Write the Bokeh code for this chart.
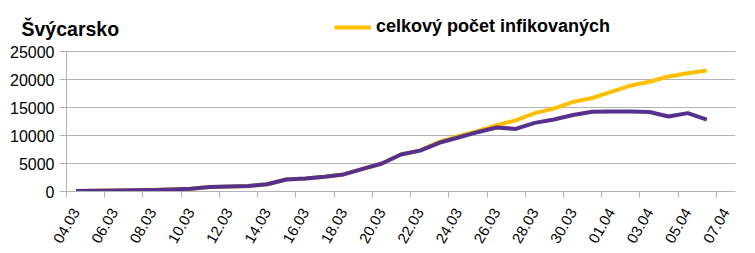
from bokeh.plotting import figure
from bokeh.models import FixedTicker, Legend, LegendItem, Range1d, BasicTickFormatter
from bokeh.embed import file_html
from bokeh.resources import INLINE

# ---- data ----
dates = ["04.03", "05.03", "06.03", "07.03", "08.03", "09.03", "10.03", "11.03", "12.03",
         "13.03", "14.03", "15.03", "16.03", "17.03", "18.03", "19.03", "20.03", "21.03",
         "22.03", "23.03", "24.03", "25.03", "26.03", "27.03", "28.03", "29.03", "30.03",
         "31.03", "01.04", "02.04", "03.04", "04.04", "05.04", "06.04", "07.04"]
total_infected = [90, 130, 200, 230, 290, 350, 480, 800, 900, 1000, 1300, 2150, 2330, 2650,
                  3050, 4040, 5000, 6600, 7350, 8850, 9870, 10770, 11840, 12700, 14000,
                  14800, 16000, 16700, 17800, 18900, 19600, 20550, 21100, 21600]
active_cases = [90, 130, 200, 230, 290, 350, 480, 800, 900, 1000, 1300, 2150, 2330, 2650,
                3050, 4040, 5000, 6600, 7300, 8700, 9640, 10590, 11430, 11180, 12250,
                12860, 13650, 14250, 14300, 14300, 14200, 13400, 14000, 12850]
y_ticks = [0, 5000, 10000, 15000, 20000, 25000]
title_text = "Švýcarsko"
legend_label = "celkový počet infikovaných"

YELLOW = "#ffbf00"
PURPLE = "#55308d"
GRID = "#b3b3b3"
FONT = "Liberation Sans"

W, H = 755, 253
BORDER_L, BORDER_R, BORDER_B = 66, 20, 62
FRAME_H = H - BORDER_B            # frame reaches the top of the canvas
PLOT_H = 140                      # pixel height of the 0..25000 value band
Y_TOP = y_ticks[-1]
y_end = Y_TOP * FRAME_H / PLOT_H  # room above the value band for title & legend

p = figure(width=W, height=H, output_backend="svg", toolbar_location=None,
           x_range=Range1d(-0.5, len(dates) - 0.5), y_range=Range1d(0, y_end),
           min_border_left=BORDER_L, min_border_right=BORDER_R,
           min_border_top=0, min_border_bottom=BORDER_B)

# title lives in the (empty) top panel and is pushed down next to the legend
p.title.text = title_text
p.title.text_font = FONT
p.title.text_font_size = "19.5px"
p.title.text_font_style = "bold"
p.title.text_color = "black"
p.title.align = "left"
p.title.offset = 21 - BORDER_L
p.title.standoff = -78

xs = list(range(len(total_infected)))
r_total = p.line(xs, total_infected, line_color=YELLOW, line_width=4, line_join="round")
p.line(xs, active_cases, line_color=PURPLE, line_width=4, line_join="round")

# x axis: labels at category centres, tick marks at category boundaries
label_idx = list(range(0, len(dates), 2))
p.xaxis.ticker = FixedTicker(ticks=label_idx, minor_ticks=[i - 0.5 for i in label_idx])
p.xaxis.major_label_overrides = {i: dates[i] for i in label_idx}
p.xaxis.major_label_orientation = 1.047
p.xaxis.major_tick_out = 0
p.xaxis.major_tick_in = 0
p.xaxis.minor_tick_out = 6
p.xaxis.minor_tick_in = 0
p.xaxis.minor_tick_line_color = GRID
p.xaxis.axis_line_color = GRID
p.xaxis.major_label_text_font = FONT
p.xaxis.major_label_text_font_size = "15px"
p.xaxis.major_label_text_color = "black"
p.xaxis.major_label_standoff = 12

p.yaxis.ticker = FixedTicker(ticks=y_ticks)
p.yaxis.bounds = (0, Y_TOP)
p.yaxis.formatter = BasicTickFormatter(use_scientific=False)
p.yaxis.major_tick_out = 7
p.yaxis.major_tick_in = 0
p.yaxis.minor_tick_line_color = None
p.yaxis.major_tick_line_color = GRID
p.yaxis.axis_line_color = GRID
p.yaxis.major_label_text_font = FONT
p.yaxis.major_label_text_font_size = "16px"
p.yaxis.major_label_text_color = "black"
p.yaxis.major_label_standoff = 5

p.ygrid.grid_line_color = GRID
p.ygrid.ticker = FixedTicker(ticks=y_ticks)
# right-hand border of the plot area
p.xgrid.ticker = FixedTicker(ticks=[len(dates) - 0.5])
p.xgrid.bounds = (0, Y_TOP)
p.xgrid.grid_line_color = GRID
p.outline_line_color = None
p.background_fill_color = "white"
p.border_fill_color = "white"

legend = Legend(items=[LegendItem(label=legend_label, renderers=[r_total])],
                location=(334 - BORDER_L, FRAME_H - 37), orientation="horizontal",
                padding=0, margin=0, spacing=0, glyph_width=37, glyph_height=20,
                label_height=20, label_standoff=5,
                label_text_font=FONT, label_text_font_size="18px",
                label_text_font_style="bold", label_text_color="black",
                border_line_color=None, background_fill_alpha=0)
p.add_layout(legend)

open("out.html", "w").write(file_html(p, INLINE))
